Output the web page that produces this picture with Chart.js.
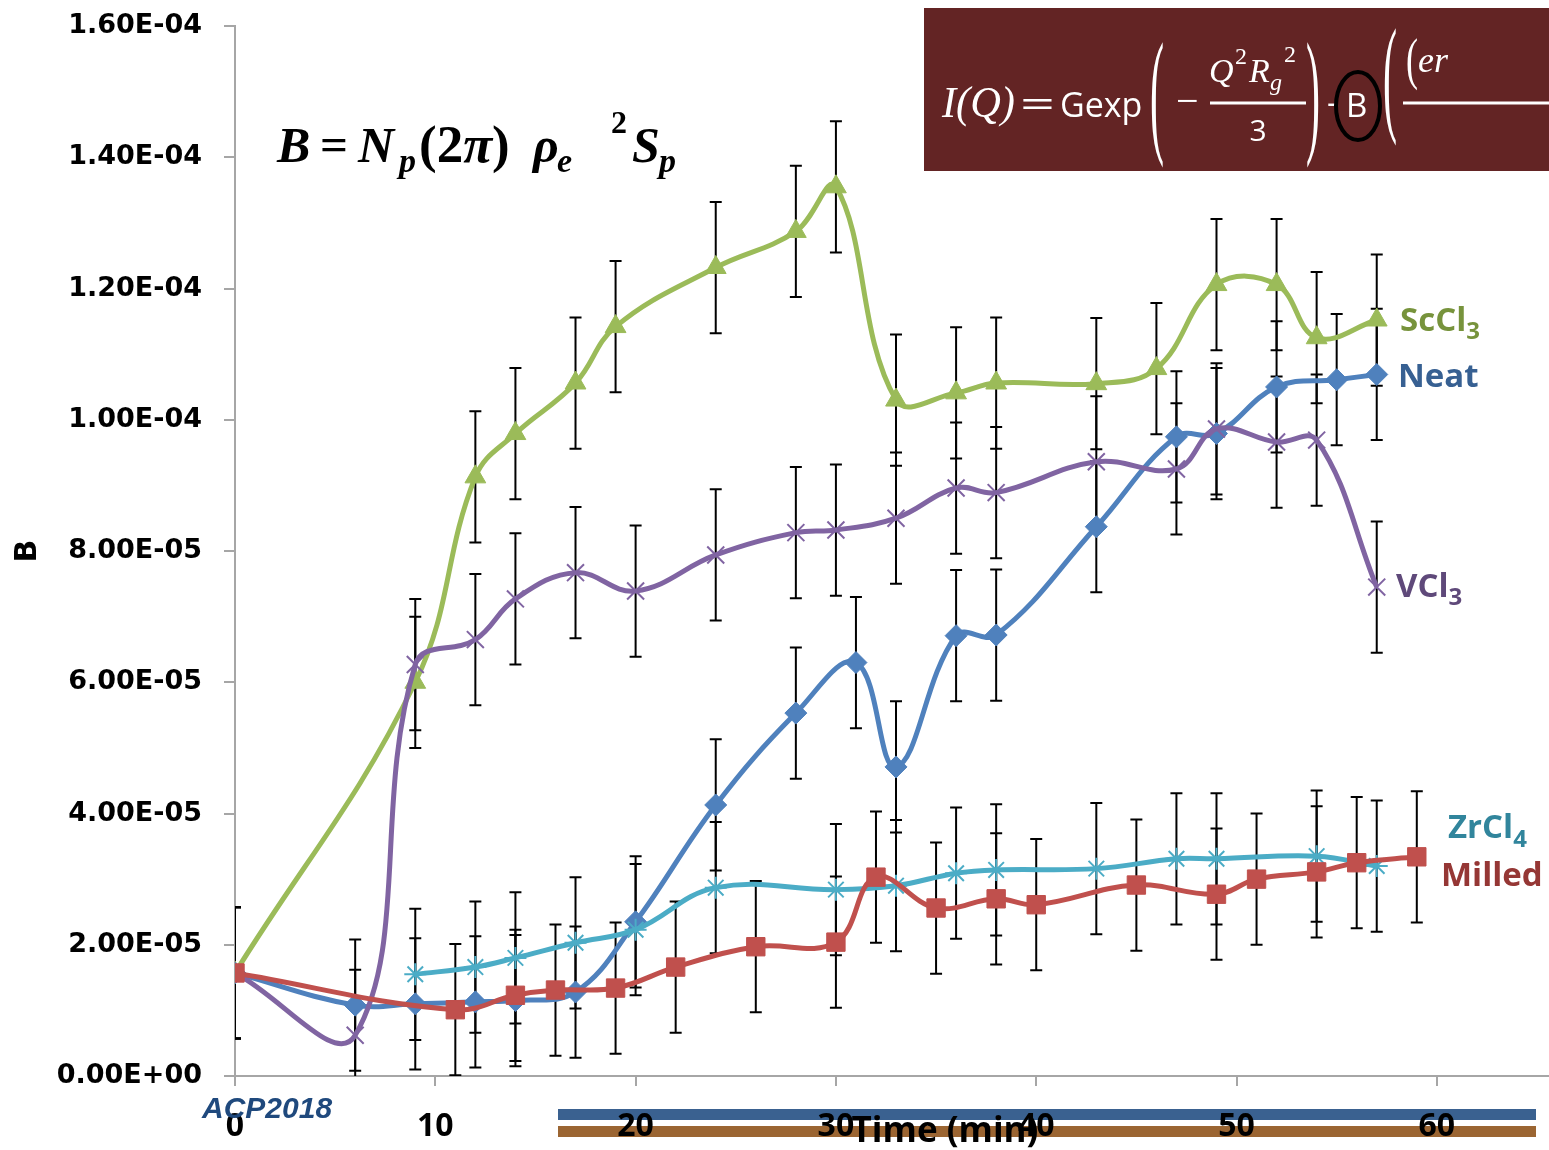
<!DOCTYPE html>
<html>
<head>
<meta charset="utf-8">
<script src="https://cdn.jsdelivr.net/npm/chart.js@4.4.0/dist/chart.umd.min.js"></script>
<style>
  body { margin: 0; background: #fff; }
  #wrap { position: relative; width: 1549px; height: 1150px; overflow: hidden; }
  #chart { position: absolute; left: 0; top: 0; z-index: 1; }
  .band { position: absolute; left: 558px; width: 978px; height: 11px; z-index: 0; }
  #ov { position: absolute; left: 0; top: 0; z-index: 2; }
</style>
</head>
<body>
<div id="wrap">
  <div class="band" style="top:1109px;background:#3a6190"></div>
  <div class="band" style="top:1126px;background:#9b6532"></div>
  <canvas id="chart" width="1549" height="1150"></canvas>
  <svg id="ov" width="1549" height="1150">
    <!-- B formula -->
    <g font-family="Liberation Serif" font-weight="bold" font-style="italic" fill="#000">
      <text x="277" y="162" font-size="50">B</text>
      <text x="320" y="160" font-size="46" font-style="normal" textLength="28" lengthAdjust="spacingAndGlyphs">=</text>
      <text x="358" y="162" font-size="50">N</text>
      <text x="399" y="172" font-size="34">p</text>
      <text x="419" y="162" font-size="53"><tspan font-style="normal">(2</tspan>π<tspan font-style="normal">)</tspan></text>
      <text x="533" y="162" font-size="50">ρ</text>
      <text x="557" y="172" font-size="34">e</text>
      <text x="611" y="133" font-size="32" font-style="normal">2</text>
      <text x="632" y="162" font-size="50">S</text>
      <text x="659" y="172" font-size="34">p</text>
    </g>
    <!-- I(Q) box -->
    <rect x="924" y="8" width="625" height="163" fill="#632424"/>
    <g fill="#fff">
      <text x="942" y="117" font-family="Liberation Serif" font-style="italic" font-size="44" textLength="73" lengthAdjust="spacingAndGlyphs">I(Q)</text>
      <text x="1020" y="117" font-family="Open Sans" font-size="36" textLength="35" lengthAdjust="spacingAndGlyphs">=</text>
      <text x="1060" y="117" font-family="Open Sans" font-size="34">Gexp</text>
      <text transform="translate(1150,138) scale(1,3.3)" font-family="Liberation Serif" font-size="42">(</text>
      <text x="1176" y="114" font-family="Liberation Serif" font-size="40">−</text>
      <text x="1209" y="82" font-family="Liberation Serif" font-style="italic" font-size="34">Q</text>
      <text x="1235" y="64" font-family="Liberation Serif" font-size="24">2</text>
      <text x="1249" y="82" font-family="Liberation Serif" font-style="italic" font-size="34">R</text>
      <text x="1270" y="90" font-family="Liberation Serif" font-style="italic" font-size="24">g</text>
      <text x="1284" y="62" font-family="Liberation Serif" font-size="24">2</text>
      <line x1="1210" y1="103" x2="1306" y2="103" stroke="#fff" stroke-width="3"/>
      <text x="1258" y="141" text-anchor="middle" font-family="Open Sans" font-size="30">3</text>
      <text transform="translate(1306,138) scale(1,3.3)" font-family="Liberation Serif" font-size="42">)</text>
      <text x="1327" y="114" font-family="Open Sans" font-size="33">-</text>
      <text x="1346" y="117" font-family="Open Sans" font-size="33">B</text>
      <text transform="translate(1383,118) scale(1,3.1)" font-family="Liberation Serif" font-size="42">(</text>
      <text transform="translate(1406,78) scale(1,1.6)" font-family="Liberation Serif" font-size="36">(</text>
      <text x="1418" y="72" font-family="Liberation Serif" font-style="italic" font-size="36">er</text>
      <line x1="1403" y1="103" x2="1549" y2="103" stroke="#fff" stroke-width="3"/>
    </g>
    <ellipse cx="1358" cy="106" rx="22" ry="34" fill="none" stroke="#000" stroke-width="4"/>
    <!-- series labels -->
    <g font-family="Open Sans" font-weight="bold" font-size="33">
      <text x="1400" y="331" fill="#77933c">ScCl<tspan font-size="24" dy="8">3</tspan></text>
      <text x="1398" y="387" fill="#376092">Neat</text>
      <text x="1396" y="597" fill="#5f497a">VCl<tspan font-size="24" dy="8">3</tspan></text>
      <text x="1448" y="838" fill="#31859c">ZrCl<tspan font-size="24" dy="9">4</tspan></text>
      <text x="1441" y="886" fill="#953735">Milled</text>
    </g>
    <text x="202" y="1118" font-family="Liberation Sans" font-weight="bold" font-style="italic" font-size="30" fill="#1f497d">ACP2018</text>
    <text x="945" y="1142" text-anchor="middle" font-family="Open Sans" font-weight="bold" font-size="35" fill="#000">Time (min)</text>
  </svg>
</div>
<script>
// values are in units of 1e-6
const UNIT = 1e-6;
const errB = 10;   // +/- error on every point

const xScCl3 = [0, 9, 12, 14, 17, 19, 24, 28, 30, 33, 36, 38, 43, 46, 49, 52, 54, 57];
const yScCl3 = [15.7, 60.0, 91.3, 97.9, 105.6, 114.2, 123.2, 128.7, 135.5, 103.0, 104.1, 105.6, 105.5, 107.8, 120.6, 120.6, 112.5, 115.2];

const xNeat = [0, 6, 9, 12, 14, 17, 20, 24, 28, 31, 33, 36, 38, 43, 47, 49, 52, 55, 57];
const yNeat = [15.7, 10.8, 11.0, 11.3, 11.5, 12.8, 23.5, 41.3, 55.3, 63.0, 47.1, 67.1, 67.2, 83.7, 97.4, 97.9, 105.0, 106.1, 106.9];

const xVCl3 = [0, 6, 9, 12, 14, 17, 20, 24, 28, 30, 33, 36, 38, 43, 47, 49, 52, 54, 57];
const yVCl3 = [15.7, 6.2, 62.7, 66.5, 72.7, 76.7, 73.9, 79.4, 82.8, 83.2, 85.0, 89.6, 88.9, 93.6, 92.5, 98.6, 96.6, 96.9, 74.5];

const xZrCl4 = [9, 12, 14, 17, 20, 24, 30, 33, 36, 38, 43, 47, 49, 54, 57];
const yZrCl4 = [15.5, 16.6, 18.0, 20.3, 22.3, 28.7, 28.4, 29.0, 30.9, 31.4, 31.6, 33.1, 33.1, 33.5, 32.0];

const xMilled = [0, 11, 14, 16, 19, 22, 26, 30, 32, 35, 38, 40, 45, 49, 51, 54, 56, 59];
const yMilled = [15.7, 10.1, 12.3, 13.1, 13.4, 16.6, 19.7, 20.4, 30.3, 25.6, 27.0, 26.1, 29.1, 27.7, 30.0, 31.1, 32.5, 33.4];

const xTicks = [0, 10, 20, 30, 40, 50, 60];

function pts(xs, ys) {
  return xs.map((v, i) => ({ x: v, y: ys[i] * UNIT }));
}

function fmtExp(v) {
  const parts = Number(v).toExponential(2).split('e');
  const e = parseInt(parts[1], 10);
  const sign = e < 0 ? '-' : '+';
  return parts[0] + 'E' + sign + String(Math.abs(e)).padStart(2, '0');
}

function series(label, xs, ys, color, style, radius, bw) {
  return {
    label: label,
    data: pts(xs, ys),
    borderColor: color,
    backgroundColor: color,
    borderWidth: 5,
    tension: 0.4,
    pointStyle: style,
    pointRadius: radius,
    pointBorderWidth: bw,
    pointBorderColor: color,
    pointBackgroundColor: color
  };
}

const errorBars = {
  id: 'errorBars',
  beforeDatasetsDraw(chart) {
    const { ctx, chartArea: a, scales: { x, y } } = chart;
    ctx.save();
    ctx.beginPath();
    ctx.rect(a.left, a.top, a.right - a.left, a.bottom - a.top);
    ctx.clip();
    ctx.strokeStyle = '#000';
    ctx.lineWidth = 2;
    chart.data.datasets.forEach(ds => {
      ds.data.forEach(p => {
        const px = x.getPixelForValue(p.x);
        const y1 = y.getPixelForValue(p.y + errB * UNIT);
        const y2 = y.getPixelForValue(p.y - errB * UNIT);
        ctx.beginPath();
        ctx.moveTo(px, y1); ctx.lineTo(px, y2);
        ctx.moveTo(px - 6, y1); ctx.lineTo(px + 6, y1);
        ctx.moveTo(px - 6, y2); ctx.lineTo(px + 6, y2);
        ctx.stroke();
      });
    });
    ctx.restore();
  }
};

const axisGrey = '#a6a6a6';

new Chart(document.getElementById('chart'), {
  type: 'line',
  data: {
    datasets: [
      series('Milled', xMilled, yMilled, '#c0504d', 'rect', 13, 1),
      series('ZrCl4', xZrCl4, yZrCl4, '#4bacc6', 'star', 11, 2),
      series('VCl3', xVCl3, yVCl3, '#8064a2', 'crossRot', 12, 2),
      series('Neat', xNeat, yNeat, '#4f81bd', 'rectRot', 11, 1),
      series('ScCl3', xScCl3, yScCl3, '#9bbb59', 'triangle', 12, 1)
    ]
  },
  options: {
    responsive: false,
    animation: false,
    layout: { autoPadding: false, padding: { top: 26, right: 0, left: 0, bottom: 0 } },
    plugins: { legend: { display: false }, tooltip: { enabled: false } },
    scales: {
      x: {
        type: 'linear',
        min: 0,
        max: 65.6,
        afterBuildTicks: s => { s.ticks = xTicks.map(v => ({ value: v })); },
        afterFit: s => { s.height = 74; s.paddingLeft = 0; s.paddingRight = 0; },
        ticks: {
          padding: 22,
          color: '#000',
          font: { family: 'Open Sans', weight: 'bold', size: 32 }
        },
        grid: { drawOnChartArea: false, tickLength: 10, color: axisGrey, lineWidth: 2 },
        border: { color: axisGrey, width: 2 }
      },
      y: {
        min: 0,
        max: 1.6e-4,
        afterFit: s => { s.width = 235; s.paddingTop = 0; s.paddingBottom = 0; },
        ticks: {
          stepSize: 2e-5,
          callback: v => fmtExp(v),
          padding: 22,
          color: '#000',
          font: { family: 'DejaVu Sans', weight: 'bold', size: 27 }
        },
        title: {
          display: true,
          text: 'B',
          color: '#000',
          padding: { top: 10, bottom: 0 },
          font: { family: 'DejaVu Sans', weight: 'bold', size: 30 }
        },
        grid: { drawOnChartArea: false, tickLength: 11, color: axisGrey, lineWidth: 2 },
        border: { color: axisGrey, width: 2 }
      }
    }
  },
  plugins: [errorBars]
});
</script>
</body>
</html>
